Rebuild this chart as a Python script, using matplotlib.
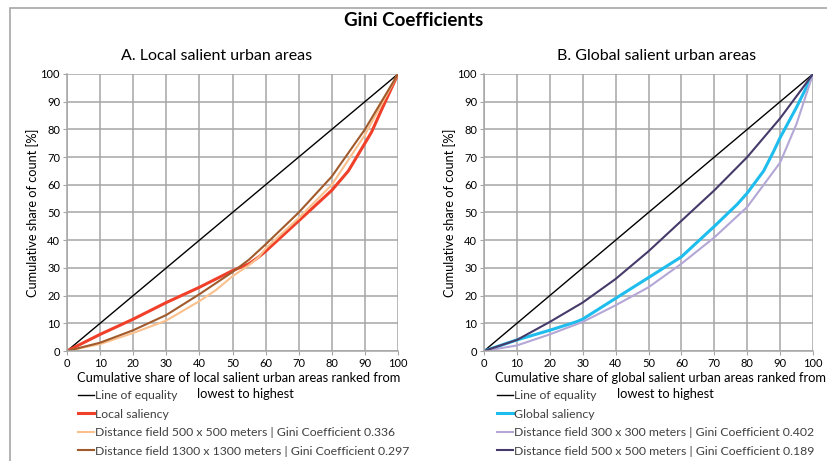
import matplotlib
matplotlib.use('Agg')
import matplotlib.pyplot as plt
from matplotlib.patches import Rectangle

plt.rcParams['font.family'] = ['Lato', 'DejaVu Sans']

# A. Local salient urban areas
eq_x = [0, 100]
eq_y = [0, 100]

local_x = [0, 10, 20, 30, 40, 50, 55, 58, 60, 70, 80, 85, 90, 92, 95, 100]
local_y = [0, 6, 11.5, 17.5, 23, 29, 31.5, 34, 36, 47, 58, 65, 75, 79, 87, 100]

df500_x = [0, 10, 20, 30, 40, 45, 50, 55, 58, 60, 70, 80, 90, 95, 100]
df500_y = [0, 2.5, 6.5, 11, 18, 22, 27, 31, 34, 37, 48, 60, 78, 89, 100]

df1300_x = [0, 10, 20, 30, 40, 50, 55, 60, 70, 80, 90, 95, 100]
df1300_y = [0, 3, 7.5, 13, 20.5, 28.5, 33, 38.5, 50, 63, 80, 90, 100]

# B. Global salient urban areas
glob_x = [0, 10, 20, 28, 30, 40, 50, 60, 70, 77, 80, 85, 88, 90, 95, 100]
glob_y = [0, 4, 7.5, 10.5, 11.5, 19, 26.5, 34, 45, 53, 57, 65, 72, 77, 88, 100]

df300_x = [0, 10, 20, 30, 40, 50, 60, 70, 80, 85, 90, 95, 100]
df300_y = [0, 2, 6, 10.5, 16.5, 23, 31.5, 41, 52, 60, 68, 82, 100]

dfg500_x = [0, 10, 20, 30, 40, 50, 60, 70, 80, 90, 100]
dfg500_y = [0, 4, 10.5, 17.5, 26, 36, 47, 58, 70, 84, 100]

ticks = list(range(0, 101, 10))

fig = plt.figure(figsize=(8.27, 4.61), dpi=100)
fig.patches.append(Rectangle((10/827, -0.05), 1.0, 1 - 8/461 + 0.05,
                             transform=fig.transFigure, fill=False,
                             edgecolor='#a6a6a6', linewidth=1.2))
fig.text(0.5, 1 - 20/461, 'Gini Coefficients', ha='center', va='center',
         fontsize=13.5, fontweight='bold')

def setup(ax, title, tx, xlabel1, lx1, lx2):
    ax.set_xlim(0, 100)
    ax.set_ylim(0, 100)
    ax.set_xticks(ticks)
    ax.set_yticks(ticks)
    ax.grid(True, color='#a6a6a6', linewidth=1.1)
    ax.set_axisbelow(True)
    for s in ['top', 'right']:
        ax.spines[s].set_visible(False)
    for s in ['left', 'bottom']:
        ax.spines[s].set_color('#a6a6a6')
        ax.spines[s].set_linewidth(1.1)
    ax.tick_params(labelsize=8, length=3, color='#a6a6a6', pad=2)
    ax.text(tx, 1 + 18/277, title, transform=ax.transAxes, ha='center',
            va='center', fontsize=11.5)
    ax.set_ylabel('Cumulative share of count [%]', fontsize=9.2, labelpad=1)
    ax.text(lx1, -27/277, xlabel1, transform=ax.transAxes, ha='center',
            va='center', fontsize=9.3)
    ax.text(lx2, -43/277, 'lowest to highest', transform=ax.transAxes,
            ha='center', va='center', fontsize=9.3)

ax1 = fig.add_axes([67/827, 1 - 351/461, 331/827, 277/461])
ax1.plot(eq_x, eq_y, color='black', lw=1, label='Line of equality')
ax1.plot(local_x, local_y, color='#f0402a', lw=2.2, label='Local saliency')
ax1.plot(df500_x, df500_y, color='#fbc08c', lw=1.5,
         label='Distance field 500 x 500 meters | Gini Coefficient 0.336')
ax1.plot(df1300_x, df1300_y, color='#a05a2c', lw=1.5,
         label='Distance field 1300 x 1300 meters | Gini Coefficient 0.297')
setup(ax1, 'A. Local salient urban areas', 0.453,
      'Cumulative share of local salient urban areas ranked from', 0.52, 0.54)

ax2 = fig.add_axes([484/827, 1 - 351/461, 329/827, 277/461])
ax2.plot(eq_x, eq_y, color='black', lw=1, label='Line of equality')
ax2.plot(glob_x, glob_y, color='#1ebdee', lw=2.2, label='Global saliency')
ax2.plot(df300_x, df300_y, color='#b4a7d6', lw=1.5,
         label='Distance field 300 x 300 meters | Gini Coefficient 0.402')
ax2.plot(dfg500_x, dfg500_y, color='#463a6a', lw=1.5,
         label='Distance field 500 x 500 meters | Gini Coefficient 0.189')
setup(ax2, 'B. Global salient urban areas', 0.526,
      'Cumulative share of global salient urban areas ranked from', 0.535, 0.55)

for ax, x0 in [(ax1, 78), (ax2, 497)]:
    ax.legend(loc='upper left', bbox_to_anchor=(x0/827, 1 - 390/461),
              bbox_transform=fig.transFigure, frameon=False, fontsize=8.8,
              handlelength=1.3, handletextpad=0.1, labelspacing=0.62,
              borderpad=0, borderaxespad=0, labelcolor='#404040')

fig.savefig('out.png', dpi=100)
